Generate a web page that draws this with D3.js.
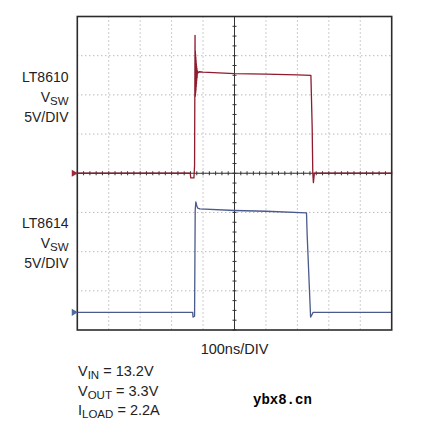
<!DOCTYPE html>
<html>
  <head>
    <meta charset="utf-8">
    <title>LT8610 vs LT8614 switch node</title>
    <style type="text/css">
      body { margin: 0; background: #fff; }
      text { font-family: "Liberation Sans", Arial, sans-serif; fill: #222; }
      .grid line { stroke: #9a9a9a; stroke-width: 1; stroke-dasharray: 1,3; }
      .trace { fill: none; stroke-width: 1.3; stroke-linejoin: round; }
    </style>
  </head>
  <body>
    <div id="main"></div>
    <script src="https://cdnjs.cloudflare.com/ajax/libs/d3/7.8.5/d3.min.js"></script>
    <script>
    // time axis in ns (10 div x 100ns), volts per channel
    var xDivs = [-500, -400, -300, -200, -100, 0, 100, 200, 300, 400, 500];
    var yDivs = [-4, -3, -2, -1, 0, 1, 2, 3, 4];
    var voltsPerDiv = 5;

    // LT8610 trace (channel 1, ground at 0 div)
    var ch1Pos = 0;
    var lt8610Time  = [-500, -141, -139, -129, -127, -125.5, -125, -124.6, -124.2, -123.8, -123.4, -123, -122.6, -122.2, -121.8, -121.4, -121, -120.6, -120.2, -119.6, -119, -118, -116, -112, -100, 0, 100, 200, 243, 247, 249, 251, 254, 500];
    var lt8610Volts = [0, 0, -0.6, -0.6, 1, 17.6, 9.8, 15.6, 10, 15.2, 10.3, 14.8, 10.6, 14.4, 11, 14, 11.4, 13.7, 11.8, 13.4, 12.2, 13.1, 12.8, 12.95, 12.9, 12.7, 12.65, 12.55, 12.5, 6, 0, -1.2, 0, 0];

    // LT8614 trace (channel 2, ground at -3.55 div)
    var ch2Pos = -3.55;
    var lt8614Time  = [-500, -133, -132, -127, -125, -123, -120, -117, -110, 0, 100, 229, 231, 242, 245, 250, 500];
    var lt8614Volts = [0, 0, -0.6, -0.5, 13, 14.1, 13.6, 13.3, 13.2, 13.0, 12.9, 12.7, 10, -0.6, -0.4, 0, 0];

    var width = 432, height = 431;
    var plot = {left: 77.3, right: 391.7, top: 16.5, bottom: 330};

    var x = d3.scaleLinear().domain([-500, 500]).range([plot.left, plot.right]);
    var y = d3.scaleLinear().domain([-4, 4]).range([plot.bottom, plot.top]);

    var svg = d3.select("#main").append("svg")
        .attr("width", width)
        .attr("height", height);

    // dotted graticule
    var grid = svg.append("g").attr("class", "grid");
    grid.selectAll("line.v").data(xDivs.slice(1, -1)).enter().append("line")
        .attr("x1", function(d) { return x(d); })
        .attr("x2", function(d) { return x(d); })
        .attr("y1", plot.top).attr("y2", plot.bottom);
    grid.selectAll("line.h").data(yDivs.slice(1, -1)).enter().append("line")
        .attr("x1", plot.left).attr("x2", plot.right)
        .attr("y1", function(d) { return y(d); })
        .attr("y2", function(d) { return y(d); });

    // center cross with minor ticks
    var cross = svg.append("g").attr("stroke", "#333").attr("stroke-width", 1);
    cross.append("line")
        .attr("x1", x(0)).attr("x2", x(0))
        .attr("y1", plot.top).attr("y2", plot.bottom);
    cross.append("line")
        .attr("x1", plot.left).attr("x2", plot.right)
        .attr("y1", y(0)).attr("y2", y(0));
    var xMinor = d3.range(-500, 500.1, 20);
    var yMinor = d3.range(-4, 4.01, 0.25);
    cross.selectAll("line.xm").data(xMinor).enter().append("line")
        .attr("x1", function(d) { return x(d); })
        .attr("x2", function(d) { return x(d); })
        .attr("y1", y(0) - 2).attr("y2", y(0) + 2);
    cross.selectAll("line.ym").data(yMinor).enter().append("line")
        .attr("x1", x(0) - 2).attr("x2", x(0) + 2)
        .attr("y1", function(d) { return y(d); })
        .attr("y2", function(d) { return y(d); });

    // traces
    function traceLine(pos) {
      return d3.line()
        .x(function(d) { return x(d[0]); })
        .y(function(d) { return y(pos + d[1] / voltsPerDiv); });
    }
    var ch1 = lt8610Time.map(function(t, i) { return [t, lt8610Volts[i]]; });
    var ch2 = lt8614Time.map(function(t, i) { return [t, lt8614Volts[i]]; });

    svg.append("path").attr("class", "trace")
        .attr("stroke", "#8e1b2e")
        .attr("d", traceLine(ch1Pos)(ch1));
    svg.append("path").attr("class", "trace")
        .attr("stroke", "#4a5b8b")
        .attr("d", traceLine(ch2Pos)(ch2));

    // frame
    svg.append("rect")
        .attr("x", plot.left).attr("y", plot.top)
        .attr("width", plot.right - plot.left)
        .attr("height", plot.bottom - plot.top)
        .attr("fill", "none")
        .attr("stroke", "#2b2b2b")
        .attr("stroke-width", 1.6);

    // ground markers
    var tri = d3.symbol().type(d3.symbolTriangle).size(22);
    [[ch1Pos, "#a0283c"], [ch2Pos, "#4f6aa3"]].forEach(function(m) {
      svg.append("path")
          .attr("d", tri())
          .attr("fill", m[1])
          .attr("transform", "translate(" + (plot.left - 3.5) + "," + y(m[0]) + ") rotate(90)");
    });

    // channel labels
    function chLabel(yBase, part) {
      var g = svg.append("g").attr("font-size", 14).attr("text-anchor", "end");
      g.append("text").attr("x", 68.5).attr("y", yBase).text(part);
      var v = g.append("text").attr("x", 68.5).attr("y", yBase + 20);
      v.append("tspan").text("V");
      v.append("tspan").attr("font-size", 11.5).attr("dy", 3).text("SW");
      g.append("text").attr("x", 68.5).attr("y", yBase + 40).text("5V/DIV");
    }
    chLabel(82, "LT8610");
    chLabel(228, "LT8614");

    svg.append("text")
        .attr("x", x(0)).attr("y", 354)
        .attr("text-anchor", "middle")
        .attr("font-size", 14.5)
        .text("100ns/DIV");

    var conds = [["V", "IN", " = 13.2V"], ["V", "OUT", " = 3.3V"], ["I", "LOAD", " = 2.2A"]];
    conds.forEach(function(c, i) {
      var t = svg.append("text")
          .attr("x", 78).attr("y", 376 + i * 19.5)
          .attr("font-size", 14.5);
      t.append("tspan").text(c[0]);
      t.append("tspan").attr("font-size", 11.5).attr("dy", 3).text(c[1]);
      t.append("tspan").attr("dy", -3).text(c[2]);
    });

    svg.append("text")
        .attr("x", 253).attr("y", 404)
        .style("font-family", "'Liberation Mono', 'DejaVu Sans Mono', monospace")
        .style("font-weight", "bold")
        .style("fill", "#000")
        .attr("font-size", 14)
        .text("ybx8.cn");
    </script>
  </body>
</html>
